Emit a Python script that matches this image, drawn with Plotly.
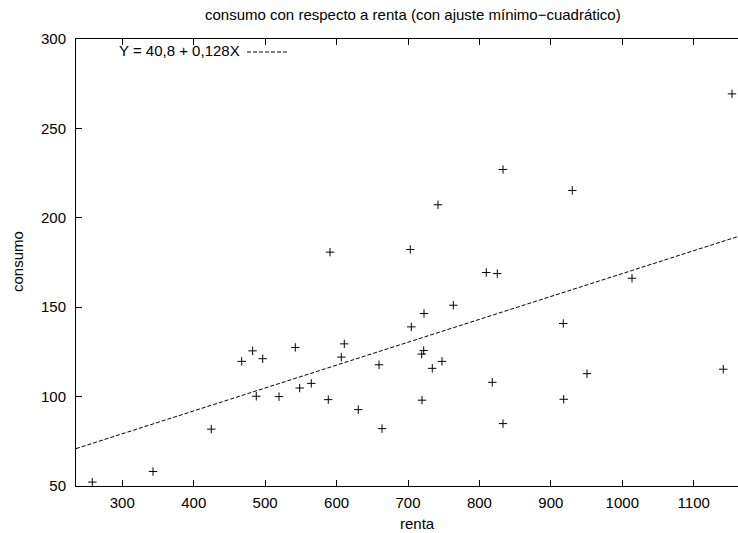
import plotly.graph_objects as go

renta = [258, 343, 424.6, 467.2, 482.5, 487.6, 496.6, 519.4, 542.2, 548.4,
         564.6, 588.4, 606.6, 610.8, 630.4, 659.4, 663.6, 704.6, 719.2, 722,
         722.4, 719.6, 734, 747.6, 763.4, 809.6, 825, 818, 833, 917.4,
         918, 950.6, 1013.6, 1141.4, 590.8, 1153.6, 833, 742, 930, 703.2]
consumo = [52.2, 58.1, 81.8, 119.7, 125.6, 100.2, 121.2, 100, 127.5, 104.8,
           107.4, 98.3, 122.1, 129.5, 92.7, 117.8, 82.1, 139, 123.8, 125.8,
           146.5, 98, 115.8, 119.7, 151.1, 169.4, 168.8, 108, 84.9, 140.9,
           98.5, 112.8, 166.2, 115.3, 180.8, 269.3, 227, 207.3, 215.3, 182.3]

intercept = 40.8
slope = 0.128
x_range = [235.2, 1162]
y_range = [50, 300]
x_ticks = [300, 400, 500, 600, 700, 800, 900, 1000, 1100]
y_ticks = [50, 100, 150, 200, 250, 300]

fit_x = list(x_range)
fit_y = [intercept + slope * v for v in fit_x]

FONT = "Liberation Sans, Arial, sans-serif"
DASH = "4px,2px"
FS = 15

# plot area spans px 76..738 x 39..486
L, T, W, H = 76, 39, 662, 447


def px(x):
    return (x - L) / W


def py(y):
    return (T + H - y) / H


fig = go.Figure()
fig.add_trace(go.Scatter(
    x=renta, y=consumo, mode="markers",
    marker=dict(symbol="cross-thin", size=6, color="black",
                line=dict(color="black", width=1)),
    showlegend=False))
fig.add_trace(go.Scatter(
    x=fit_x, y=fit_y, mode="lines",
    line=dict(color="black", width=1, dash=DASH),
    showlegend=False))

fig.update_layout(
    width=738, height=533,
    margin=dict(l=L, r=0, t=T, b=533 - T - H),
    paper_bgcolor="white", plot_bgcolor="white",
    font=dict(family=FONT, size=FS, color="black"),
    showlegend=False, hovermode=False,
    xaxis=dict(range=x_range, tickvals=x_ticks, ticks="inside", ticklen=6,
               tickcolor="black", showline=True, linecolor="black",
               linewidth=1, mirror="ticks", showgrid=False, zeroline=False,
               ticklabelstandoff=3, tickfont=dict(size=FS)),
    yaxis=dict(range=y_range, tickvals=y_ticks, ticks="inside", ticklen=6,
               tickcolor="black", showline=True, linecolor="black",
               linewidth=1, mirror=False, showgrid=False, zeroline=False,
               ticklabelstandoff=6, tickfont=dict(size=FS)),
    annotations=[
        dict(text="consumo con respecto a renta (con ajuste mínimo−cuadrático)",
             xref="paper", yref="paper", x=px(413), y=py(14),
             xanchor="center", yanchor="middle", showarrow=False,
             font=dict(size=FS)),
        dict(text="renta", xref="paper", yref="paper",
             x=px(417), y=py(523),
             xanchor="center", yanchor="middle", showarrow=False,
             font=dict(size=FS)),
        dict(text="consumo", xref="paper", yref="paper",
             x=px(17), y=py(262), textangle=-90,
             xanchor="center", yanchor="middle", showarrow=False,
             font=dict(size=FS)),
        dict(text="Y = 40,8 + 0,128X", xref="paper", yref="paper",
             x=px(242), y=py(51),
             xanchor="right", yanchor="middle", showarrow=False,
             font=dict(size=FS)),
    ],
    shapes=[
        dict(type="line", xref="paper", yref="paper",
             x0=px(247), x1=px(289), y0=py(52), y1=py(52),
             line=dict(color="black", width=1, dash=DASH)),
    ],
)

fig.write_html(
    "out.html",
    config={"displayModeBar": False, "staticPlot": True},
    post_script="document.body.style.margin='0';"
                "document.body.style.overflow='hidden';")
